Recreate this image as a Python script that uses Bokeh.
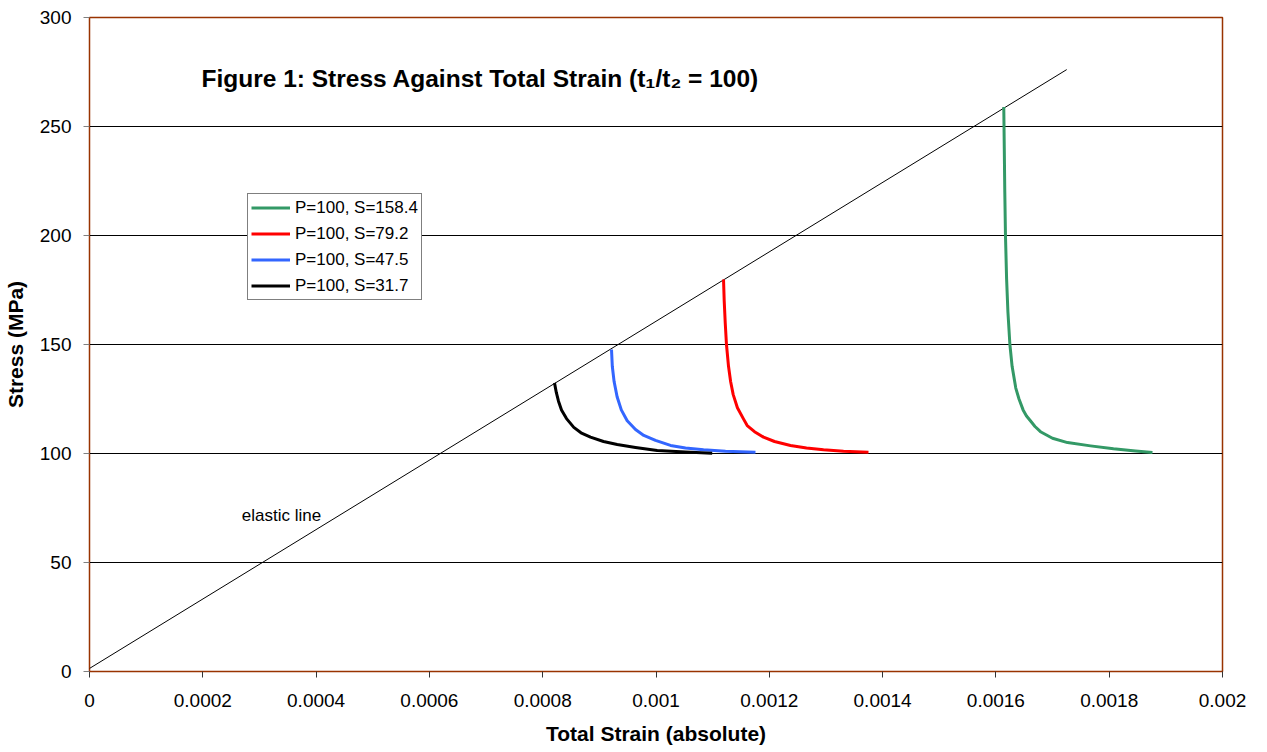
from bokeh.plotting import figure
from bokeh.models import Label, Legend, LegendItem, FixedTicker, CustomJSTickFormatter, Range1d
from bokeh.embed import file_html
from bokeh.resources import INLINE

FONT = "Liberation Sans"

# ---- data ----
x_ticks = [0, 0.0002, 0.0004, 0.0006, 0.0008, 0.001, 0.0012, 0.0014, 0.0016, 0.0018, 0.002]
y_ticks = [0, 50, 100, 150, 200, 250, 300]

elastic_strain = [0.0, 0.001725]
elastic_stress = [1.4, 276.1]

green_strain = [0.0016139, 0.0016148, 0.0016157, 0.0016169, 0.0016189, 0.0016212, 0.0016247,
                0.0016286, 0.0016351, 0.0016408, 0.0016480, 0.0016540, 0.0016609, 0.0016690,
                0.0016787, 0.0016999, 0.0017264, 0.0017670, 0.0018076, 0.0018464, 0.0018764]
green_stress = [258.9, 240.0, 220.0, 200.0, 180.0, 165.0, 150.0,
                140.0, 130.0, 125.0, 120.0, 117.2, 115.0, 112.4,
                110.0, 107.0, 105.0, 103.5, 102.2, 101.2, 100.5]

red_strain = [0.0011192, 0.0011204, 0.0011222, 0.0011244, 0.0011280, 0.0011317, 0.0011363,
              0.0011437, 0.0011541, 0.0011610, 0.0011739, 0.0011898, 0.0012092, 0.0012374,
              0.0012657, 0.0012957, 0.0013310, 0.0013751]
red_stress = [179.8, 170.0, 160.0, 150.0, 140.0, 133.0, 127.0,
              121.0, 116.0, 112.8, 110.0, 107.5, 105.5, 103.7,
              102.5, 101.7, 101.0, 100.6]

blue_strain = [0.00092145, 0.00092286, 0.00092604, 0.00093133, 0.00093875, 0.00094917, 0.00096382,
               0.00097847, 0.00099912, 0.0010256, 0.0010521, 0.0010839, 0.0011227, 0.0011756]
blue_stress = [147.7, 140.0, 133.0, 126.0, 120.0, 115.0, 111.0,
               108.3, 106.0, 103.7, 102.5, 101.7, 101.0, 100.6]

black_strain = [0.00082083, 0.00082401, 0.00082789, 0.00083319, 0.00084201, 0.00085490, 0.00086761,
                0.00088438, 0.00090733, 0.0009315, 0.00096382, 0.0010021, 0.0010521, 0.0010992]
black_stress = [132.4, 128.0, 124.0, 120.0, 116.0, 112.0, 109.5,
                107.5, 105.5, 104.1, 102.8, 101.4, 100.7, 100.1]

series_labels = ["P=100, S=158.4", "P=100, S=79.2", "P=100, S=47.5", "P=100, S=31.7"]
series_colors = ["#339966", "#FF0000", "#3366FF", "#000000"]

title_text = "Figure 1: Stress Against Total Strain (t\u2081/t\u2082 = 100)"

# ---- figure ----
p = figure(frame_width=1133, frame_height=654,
           x_range=Range1d(0, 0.002), y_range=Range1d(0, 300),
           output_backend="svg", toolbar_location=None,
           min_border_left=89, min_border_right=37, min_border_top=17, min_border_bottom=73,
           background_fill_color="white", border_fill_color="white")

p.outline_line_color = "#993300"
p.outline_line_width = 1.5
p.xgrid.grid_line_color = None
p.ygrid.grid_line_color = "black"
p.ygrid.grid_line_width = 1

p.xaxis.ticker = FixedTicker(ticks=x_ticks)
p.yaxis.ticker = FixedTicker(ticks=y_ticks)
p.xaxis.formatter = CustomJSTickFormatter(code="return Number(tick.toFixed(5)).toString();")
p.yaxis.formatter = CustomJSTickFormatter(code="return Number(tick.toFixed(0)).toString();")

for ax in (p.xaxis[0], p.yaxis[0]):
    ax.axis_line_color = None
    ax.minor_tick_line_color = None
    ax.major_tick_in = 0
    ax.major_tick_out = 6
    ax.major_label_text_font = FONT
    ax.major_label_text_font_size = "19px"
    ax.major_label_text_color = "black"
    ax.axis_label_text_font = FONT
    ax.axis_label_text_font_style = "bold"
    ax.axis_label_text_font_size = "21px"
    ax.axis_label_text_color = "black"

p.xaxis.major_tick_line_color = "#333333"
p.yaxis.major_tick_line_color = "#808080"
p.xaxis.major_label_standoff = 16
p.yaxis.major_label_standoff = 12
p.xaxis.axis_label = "Total Strain (absolute)"
p.yaxis.axis_label = "Stress (MPa)"
p.xaxis.axis_label_standoff = 12
p.yaxis.axis_label_standoff = 10

# elastic line
p.line(elastic_strain, elastic_stress, line_color="black", line_width=1)

renderers = []
for xs, ys, c in [(green_strain, green_stress, series_colors[0]),
                  (red_strain, red_stress, series_colors[1]),
                  (blue_strain, blue_stress, series_colors[2]),
                  (black_strain, black_stress, series_colors[3])]:
    r = p.line(xs, ys, line_color=c, line_width=3, line_join="round", line_cap="butt")
    renderers.append(r)

legend = Legend(items=[LegendItem(label=l, renderers=[r]) for l, r in zip(series_labels, renderers)],
                location=(158, 371), orientation="vertical",
                border_line_color="black", border_line_width=1,
                background_fill_color="white", background_fill_alpha=1,
                label_text_font=FONT, label_text_font_size="17px", label_text_color="black",
                glyph_width=39, glyph_height=21, label_height=21, label_standoff=5,
                spacing=5, padding=3, margin=0)
p.add_layout(legend, "center")

p.add_layout(Label(x=0.0001977, y=272, text=title_text, text_font=FONT,
                   text_font_size="24.5px", text_font_style="bold", text_color="black",
                   text_baseline="middle", text_align="left"))
p.add_layout(Label(x=0.000339, y=71.6, text="elastic line", text_font=FONT,
                   text_font_size="17px", text_color="black",
                   text_baseline="middle", text_align="center"))

open("out.html", "w").write(file_html(p, INLINE))
